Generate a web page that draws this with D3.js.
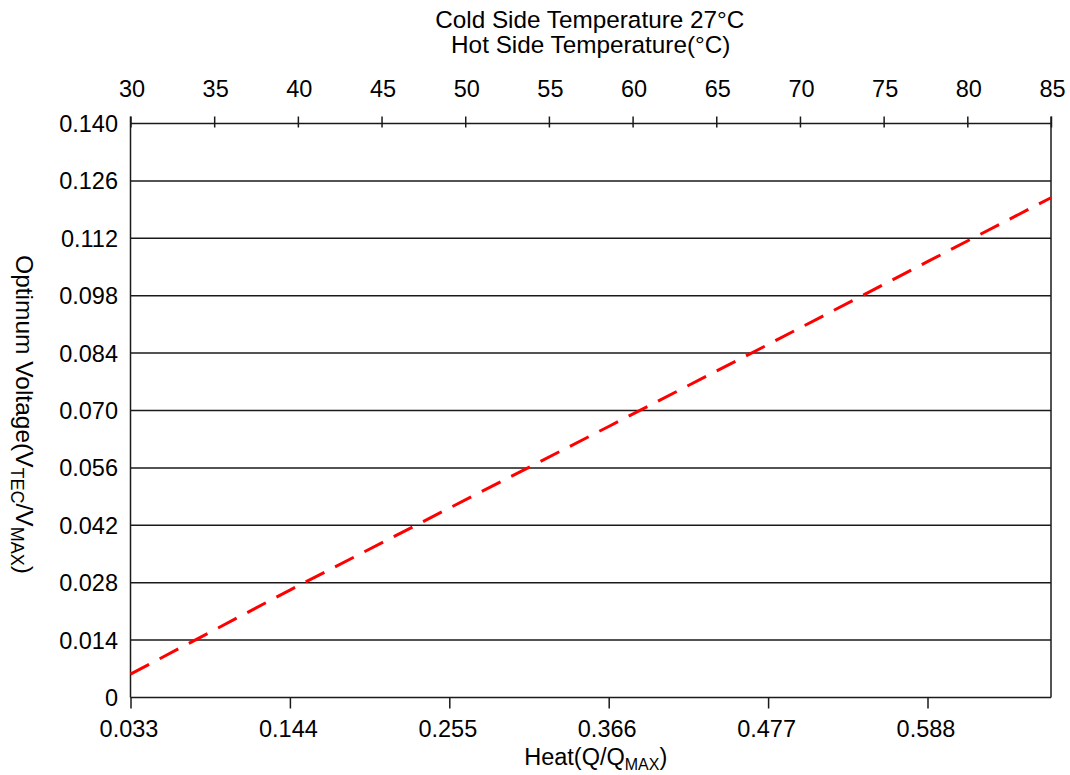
<!DOCTYPE html>
<html><head><meta charset="utf-8">
<script src="https://cdn.jsdelivr.net/npm/d3@7"></script>
<style>body{margin:0;background:#fff}svg{display:block}text{font-family:"Liberation Sans",Arial,sans-serif;fill:#000}</style>
</head><body><svg id="c" width="1070" height="775"></svg>
<script>
const heat = [0.033, 0.144, 0.255, 0.366, 0.477, 0.588, 0.674];
const voltage = [0.0057, 0.0262, 0.0462, 0.0661, 0.0861, 0.1063, 0.1219];
const heatTicks = [0.033, 0.144, 0.255, 0.366, 0.477, 0.588];
const tempTicks = [30, 35, 40, 45, 50, 55, 60, 65, 70, 75, 80, 85];
const voltTicks = [0, 0.014, 0.028, 0.042, 0.056, 0.070, 0.084, 0.098, 0.112, 0.126, 0.140];
const tempDomain = [30, 85];
const heatDomain = [0.033, 0.674];
const voltDomain = [0, 0.140];

const FS = "23.5px";
const L = 130.5, R = 1051, T = 123.5, B = 697.5;
const svg = d3.select("#c");
const x = d3.scaleLinear().domain(heatDomain).range([L, R]);
const xt = d3.scaleLinear().domain(tempDomain).range([L, R]);
const y = d3.scaleLinear().domain(voltDomain).range([B, T]);
const fmt = d => d === 0 ? "0" : d3.format(".3f")(d);

// gridlines
svg.append("g").selectAll("line").data(voltTicks).join("line")
  .attr("x1", L).attr("x2", R).attr("y1", d => y(d)).attr("y2", d => y(d))
  .attr("stroke", "#1a1a1a").attr("stroke-width", 1.5);

// frame verticals
svg.append("line").attr("x1", L).attr("x2", L).attr("y1", T - 7).attr("y2", B).attr("stroke", "#1a1a1a").attr("stroke-width", 1.5);
svg.append("line").attr("x1", R).attr("x2", R).attr("y1", T - 7).attr("y2", B).attr("stroke", "#1a1a1a").attr("stroke-width", 1.5);

// y labels
svg.append("g").selectAll("text").data(voltTicks).join("text")
  .attr("x", 118).attr("y", d => y(d)).attr("dy", "0.36em").attr("text-anchor", "end")
  .style("font-size", FS).text(fmt);

// bottom axis
const bx = svg.append("g").attr("transform", `translate(0,${B})`)
  .call(d3.axisBottom(x).tickValues(heatTicks).tickFormat(d3.format(".3f")).tickSize(11).tickPadding(11.5));
bx.select(".domain").remove();
bx.selectAll(".tick line").attr("stroke", "#1a1a1a").attr("stroke-width", 1.5);
bx.selectAll(".tick text").style("font-size", FS).style("font-family", '"Liberation Sans",Arial,sans-serif').attr("fill", "#000").attr("dx", "-2");

// top axis
const tx = svg.append("g").attr("transform", `translate(0,${T + 4})`)
  .call(d3.axisTop(xt).tickValues(tempTicks).tickSize(11).tickPadding(19.5));
tx.select(".domain").remove();
tx.selectAll(".tick line").attr("stroke", "#1a1a1a").attr("stroke-width", 1.5);
tx.selectAll(".tick text").style("font-size", FS).style("font-family", '"Liberation Sans",Arial,sans-serif').attr("fill", "#000").attr("dx", "1");

// line
const pts = heat.map((h, i) => [h, voltage[i]]);
svg.append("path").datum(pts)
  .attr("d", d3.line().x(d => x(d[0])).y(d => y(d[1])))
  .attr("fill", "none").attr("stroke", "#ff0000").attr("stroke-width", 3)
  .attr("stroke-dasharray", "21,12");

// titles
const cx = (L + R) / 2;
svg.append("text").attr("x", cx - 1).attr("y", 28).attr("text-anchor", "middle").style("font-size", "24.3px").text("Cold Side Temperature 27°C");
svg.append("text").attr("x", cx).attr("y", 53).attr("text-anchor", "middle").style("font-size", "24.3px").text("Hot Side Temperature(°C)");

const xl = svg.append("text").attr("x", cx + 5).attr("y", 765).attr("text-anchor", "middle").style("font-size", FS);
xl.append("tspan").text("Heat(Q/Q");
xl.append("tspan").attr("dy", 5).style("font-size", "16px").text("MAX");
xl.append("tspan").attr("dy", -5).text(")");

const yl = svg.append("text").attr("transform", `translate(16,${(T + B) / 2 + 4}) rotate(90)`).attr("text-anchor", "middle").style("font-size", "24.5px");
yl.append("tspan").text("Optimum Voltage(V");
yl.append("tspan").attr("dy", 5).style("font-size", "18px").text("TEC");
yl.append("tspan").attr("dy", -5).text("/V");
yl.append("tspan").attr("dy", 5).style("font-size", "18px").text("MAX");
yl.append("tspan").attr("dy", -5).text(")");
</script></body></html>
